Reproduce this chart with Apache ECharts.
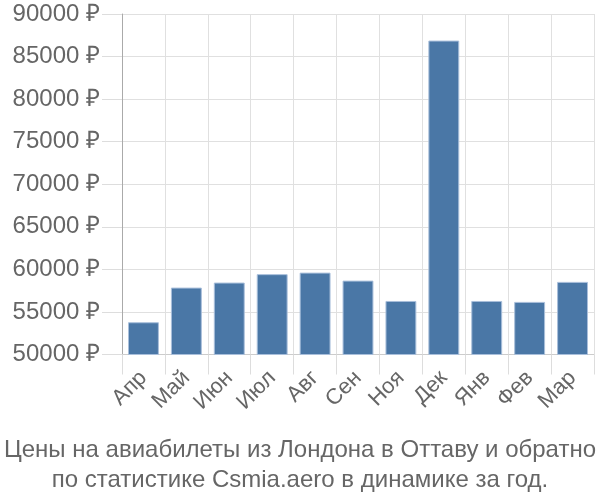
<!DOCTYPE html>
<html><head><meta charset="utf-8">
<script src="https://cdn.jsdelivr.net/npm/echarts@6/dist/echarts.min.js"></script>
<style>html,body{margin:0;padding:0;background:#fff}#c{width:600px;height:500px}</style>
</head><body><div id="c"></div>
<script>
var categories = ['Апр','Май','Июн','Июл','Авг','Сен','Ноя','Дек','Янв','Фев','Мар'];
var prices = [53790, 57860, 58450, 59440, 59620, 58680, 56290, 86880, 56290, 56180, 58530];
var titleLines = ['Цены на авиабилеты из Лондона в Оттаву и обратно', 'по статистике Csmia.aero в динамике за год.'];
var yMin = 50000, yMax = 90000, yStep = 5000;

var chart = echarts.init(document.getElementById('c'), null, {renderer:'canvas'});
chart.setOption({
  animation: false,
  title: {
    text: titleLines.join('\n'),
    left: 'center', top: 430,
    textStyle: {fontFamily:'Liberation Sans, Arial, sans-serif', fontSize:24, fontWeight:'normal', color:'#666', lineHeight:30}
  },
  grid: {left:122, right:6, top:14, bottom:145.5, containLabel:false},
  xAxis: {
    type:'category', data:categories,
    axisLine:{show:true, lineStyle:{color:'#ccc'}},
    axisTick:{show:true, length:20, lineStyle:{color:'#ddd'}},
    splitLine:{show:true, lineStyle:{color:'#e0e0e0'}},
    axisLabel:{interval:0, rotate:45, margin:20, fontFamily:'Liberation Sans, Arial, sans-serif', fontSize:22, color:'#666'}
  },
  yAxis: {
    type:'value', min:yMin, max:yMax, interval:yStep,
    axisLine:{show:true, lineStyle:{color:'#aaa'}},
    axisTick:{show:true, length:20, lineStyle:{color:'#ddd'}},
    splitLine:{show:true, lineStyle:{color:'#e0e0e0'}},
    axisLabel:{margin:22, fontFamily:'Liberation Sans, Arial, sans-serif', fontSize:24, color:'#666', formatter:function(v){return v+' ₽';}}
  },
  series: [{
    type:'bar', data:prices, barCategoryGap:'28%',
    itemStyle:{color:'#4a77a6', borderColor:'#a9bfdb', borderWidth:1}
  }]
});
</script></body></html>
